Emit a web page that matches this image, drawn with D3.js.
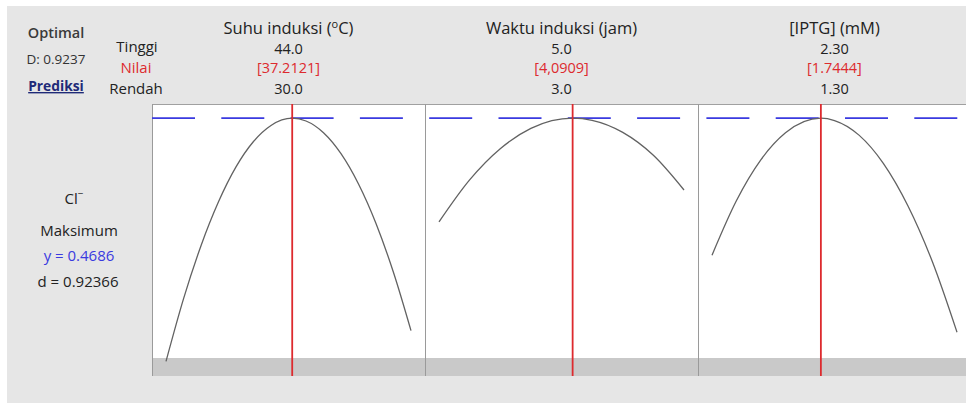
<!DOCTYPE html>
<html>
<head>
<meta charset="utf-8">
<script src="https://cdn.jsdelivr.net/npm/d3@7"></script>
<style>
  html, body { margin: 0; padding: 0; background: #ffffff; }
  svg { display: block; }
  text { font-family: "Open Sans", "Noto Sans", sans-serif; }
</style>
</head>
<body>
<svg id="chart" width="966" height="403"></svg>
<script>
// Response optimizer: Cl- response vs. three induction factors
const factorTitleMain = ["Suhu induksi (", "Waktu induksi (jam)", "[IPTG] (mM)"];
const factorTitleSup  = ["o", "", ""];
const factorTitleEnd  = ["C)", "", ""];
const factorLow   = [30, 3, 1.3];
const factorHigh  = [44, 5, 2.3];
const lowLabels   = ["30.0", "3.0", "1.30"];
const highLabels  = ["44.0", "5.0", "2.30"];
const optimum     = [37.2121, 4.0909, 1.7444];
const optimumLabels = ["[37.2121]", "[4,0909]", "[1.7444]"];

// Predicted Cl- response along each factor (others held at the optimum)
const suhuX = [30, 31, 32, 33, 34, 35, 36, 37.2121, 38, 39, 40, 41, 42, 43, 44];
const suhuY = [0.1020, 0.1962, 0.2764, 0.3426, 0.3952, 0.4335, 0.4577, 0.4686, 0.4644, 0.4467, 0.4151, 0.3694, 0.3099, 0.2360, 0.1484];
const waktuX = [3, 3.25, 3.5, 3.75, 4.0909, 4.25, 4.5, 4.75, 5];
const waktuY = [0.3123, 0.3756, 0.4226, 0.4532, 0.4686, 0.4654, 0.4472, 0.4127, 0.3604];
const iptgX = [1.3, 1.4, 1.5, 1.6, 1.7444, 1.8, 1.9, 2.0, 2.1, 2.2, 2.3];
const iptgY = [0.2621, 0.3445, 0.4062, 0.4466, 0.4686, 0.4651, 0.4431, 0.4002, 0.3363, 0.2518, 0.1460];

const seriesX = [suhuX, waktuX, iptgX];
const seriesY = [suhuY, waktuY, iptgY];

const responseName = "Cl";
const goalLabel = "Maksimum";
const predictedY = 0.4686;
const desirability = "0.92366";
const compositeD = "0.9237";
const responseDomain = [0.08, 0.49];

const svg = d3.select("#chart");
const W = 966, H = 403;

// window background
svg.append("rect").attr("x", 7).attr("y", 6).attr("width", W - 7).attr("height", H - 6).attr("fill", "#e6e6e6");

const panelTop = 104, panelBottom = 376, bandTop = 358;
const panelLeft0 = 152, panelW = 273, padX = 14;

const y = d3.scaleLinear().domain(responseDomain).range([panelBottom, panelTop]);

const red = "#dd2a2e", blue = "#3a3ae0", ink = "#222";

factorLow.forEach((lo, i) => {
  const L = panelLeft0 + i * panelW;
  svg.append("rect").attr("x", L).attr("y", panelTop).attr("width", panelW).attr("height", panelBottom - panelTop).attr("fill", "#ffffff");
  svg.append("rect").attr("x", L).attr("y", bandTop).attr("width", panelW).attr("height", panelBottom - bandTop).attr("fill", "#c9c9c9");
});

// panel frame
svg.append("line").attr("x1", panelLeft0).attr("x2", W + 10).attr("y1", panelTop + 0.5).attr("y2", panelTop + 0.5).attr("stroke", "#a0a0a0");
for (let i = 0; i <= 3; i++) {
  const xL = panelLeft0 + i * panelW + 0.5;
  svg.append("line").attr("x1", xL).attr("x2", xL).attr("y1", panelTop).attr("y2", panelBottom).attr("stroke", "#9a9a9a");
}

// predicted response reference line
svg.append("line")
  .attr("x1", panelLeft0).attr("x2", W + 10)
  .attr("y1", y(predictedY)).attr("y2", y(predictedY))
  .attr("stroke", blue).attr("stroke-width", 1.8)
  .attr("stroke-dasharray", "43,26.3");

factorLow.forEach((lo, i) => {
  const L = panelLeft0 + i * panelW;
  const x = d3.scaleLinear().domain([lo, factorHigh[i]]).range([L + padX, L + panelW - padX]);
  const pts = seriesX[i].map((v, k) => [v, seriesY[i][k]]);
  const line = d3.line().x(d => x(d[0])).y(d => y(d[1])).curve(d3.curveMonotoneX);
  svg.append("path").attr("d", line(pts)).attr("fill", "none").attr("stroke", "#626262").attr("stroke-width", 1.3);

  svg.append("line")
    .attr("x1", x(optimum[i])).attr("x2", x(optimum[i]))
    .attr("y1", panelTop).attr("y2", panelBottom)
    .attr("stroke", red).attr("stroke-width", 1.8);

  const cx = L + panelW / 2;
  const t = svg.append("text").attr("x", cx).attr("y", 33.5).attr("text-anchor", "middle")
    .attr("font-size", 16.5).attr("fill", ink);
  t.append("tspan").text(factorTitleMain[i]);
  if (factorTitleSup[i]) {
    t.append("tspan").attr("font-size", 11).attr("dy", -6).text(factorTitleSup[i]);
    t.append("tspan").attr("dy", 6).text(factorTitleEnd[i]);
  }
  svg.append("text").attr("x", cx).attr("y", 53.5).attr("text-anchor", "middle").attr("font-size", 14.5).attr("fill", ink).text(highLabels[i]);
  svg.append("text").attr("x", cx).attr("y", 73).attr("text-anchor", "middle").attr("font-size", 14.5).attr("fill", red).text(optimumLabels[i]);
  svg.append("text").attr("x", cx).attr("y", 93.5).attr("text-anchor", "middle").attr("font-size", 14.5).attr("fill", ink).text(lowLabels[i]);
});

// row labels
svg.append("text").attr("x", 137).attr("y", 52).attr("text-anchor", "middle").attr("font-size", 15).attr("fill", ink).text("Tinggi");
svg.append("text").attr("x", 136).attr("y", 72.5).attr("text-anchor", "middle").attr("font-size", 15).attr("fill", red).text("Nilai");
svg.append("text").attr("x", 136).attr("y", 93.5).attr("text-anchor", "middle").attr("font-size", 15).attr("fill", ink).text("Rendah");

// composite desirability
svg.append("text").attr("x", 56).attr("y", 37.5).attr("text-anchor", "middle").attr("font-size", 14.5).attr("font-weight", 600).attr("fill", "#3a3a3a").text("Optimal");
svg.append("text").attr("x", 56).attr("y", 64).attr("text-anchor", "middle").attr("font-size", 13.5).attr("fill", "#333").text("D: " + compositeD);
svg.append("text").attr("x", 56).attr("y", 91).attr("text-anchor", "middle").attr("font-size", 13.8).attr("font-weight", 700).attr("fill", "#1f2a78").attr("text-decoration", "underline").text("Prediksi");

// response summary
const r = svg.append("text").attr("x", 74).attr("y", 204).attr("text-anchor", "middle").attr("font-size", 15).attr("fill", ink);
r.append("tspan").text(responseName);
r.append("tspan").attr("font-size", 10).attr("dy", -7).text("−");
svg.append("text").attr("x", 79).attr("y", 236).attr("text-anchor", "middle").attr("font-size", 15).attr("fill", ink).text(goalLabel);
svg.append("text").attr("x", 79).attr("y", 261).attr("text-anchor", "middle").attr("font-size", 15).attr("fill", blue).text("y = " + predictedY.toFixed(4));
svg.append("text").attr("x", 78).attr("y", 287).attr("text-anchor", "middle").attr("font-size", 15).attr("fill", ink).text("d = " + desirability);
</script>
</body>
</html>
